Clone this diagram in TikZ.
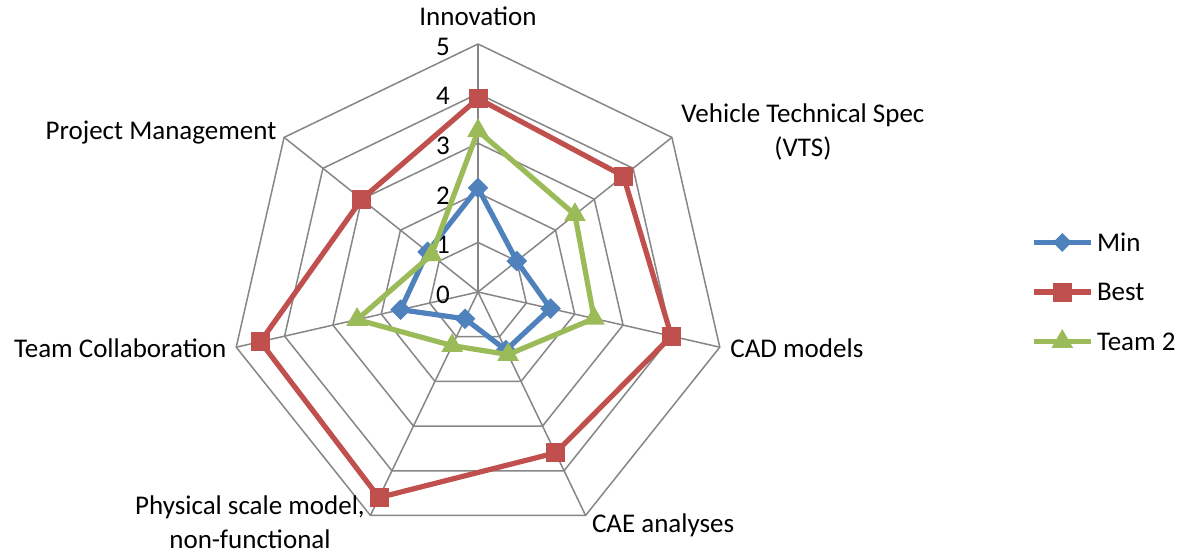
\documentclass[tikz,border=0pt]{standalone}
\usepackage{fontspec}
\setmainfont{Carlito}
\usetikzlibrary{shapes.geometric}
\definecolor{minblue}{HTML}{4F81BD}
\definecolor{bestred}{HTML}{C0504D}
\definecolor{teamgreen}{HTML}{9BBB59}
\definecolor{gridgray}{HTML}{868686}

\begin{document}
\begin{tikzpicture}[x=24.8pt,y=24.8pt,font=\fontsize{13.5}{16.6}\selectfont,grid/.style={draw=gridgray,line width=0.75pt},series/.style={line width=2.6pt,line join=round},sq/.style={fill=#1,shape=rectangle,minimum size=9.5pt,inner sep=0pt},dia/.style={fill=#1,shape=diamond,minimum size=10.5pt,inner sep=0pt},tri/.style={fill=#1,regular polygon,regular polygon sides=3,minimum size=12.5pt,inner sep=0pt},axislabel/.style={inner sep=0pt,align=center}]
\useasboundingbox (-9.637,-5.282) rectangle (14.254,5.887);
% web
\foreach \r in {1,...,5}
  \draw[grid] (90:\r) \foreach \k in {1,...,6} { -- ({90-\k*360/7}:\r) } -- cycle;
\foreach \k in {0,...,6}
  \draw[grid] (0,0) -- ({90-\k*360/7}:5);
\foreach \r in {0,...,5}
  \node[inner sep=0pt] (tick\r) at (-0.706,\r-0.05) {\r};
% axis names
\node[axislabel,anchor=base] (innov) at (0,5.363) {Innovation};
\node[axislabel,anchor=base] (vts) at (6.552,2.740) {Vehicle Technical Spec\\(VTS)};
\node[axislabel,anchor=base west] (cad) at (5.081,-1.317) {CAD models};
\node[axislabel,anchor=base west] (cae) at (2.292,-4.845) {CAE analyses};
\node[axislabel,anchor=base] (phys) at (-4.597,-5.165) {Physical scale model,\\non-functional};
\node[axislabel,anchor=base east] (collab) at (-5.067,-1.317) {Team Collaboration};
\node[axislabel,anchor=base east] (pm) at (-4.058,3.065) {Project Management};
% series
\foreach \v [count=\k from 0] in {2.1,1.0,1.5,1.3,0.6,1.6,1.3}
  \coordinate (min\k) at ({90-\k*360/7}:\v);
\foreach \v [count=\k from 0] in {3.9,3.75,4.0,3.6,4.6,4.5,3.0}
  \coordinate (best\k) at ({90-\k*360/7}:\v);
\foreach \v [count=\k from 0] in {3.25,2.5,2.4,1.4,1.2,2.5,1.2}
  \coordinate (team\k) at ({90-\k*360/7}:\v);
\draw[series,minblue] (min0) -- (min1) -- (min2) -- (min3) -- (min4) -- (min5) -- (min6) -- cycle;
\foreach \k in {0,...,6} \node[dia=minblue] at (min\k) {};
\draw[series,bestred] (best0) -- (best1) -- (best2) -- (best3) -- (best4) -- (best5) -- (best6) -- cycle;
\foreach \k in {0,...,6} \node[sq=bestred] at (best\k) {};
\draw[series,teamgreen] (team0) -- (team1) -- (team2) -- (team3) -- (team4) -- (team5) -- (team6) -- cycle;
\foreach \k in {0,...,6} \node[tri=teamgreen] at (team\k) {};
% legend
\coordinate (legmin) at (11.21,1);
\coordinate (legbest) at (11.21,0);
\coordinate (legteam) at (11.21,-1);
\draw[series,minblue] (legmin) -- ++(1.14,0) node[dia=minblue,pos=0.5] {};
\draw[series,bestred] (legbest) -- ++(1.14,0) node[sq=bestred,pos=0.5] {};
\draw[series,teamgreen] (legteam) -- ++(1.14,0) node[tri=teamgreen,pos=0.5] {};
\node[anchor=west,inner sep=0pt] (minlab) at (12.472,1) {Min};
\node[anchor=west,inner sep=0pt] (bestlab) at (12.472,0) {Best};
\node[anchor=west,inner sep=0pt] (teamlab) at (12.472,-1) {Team 2};
\end{tikzpicture}
\end{document}
